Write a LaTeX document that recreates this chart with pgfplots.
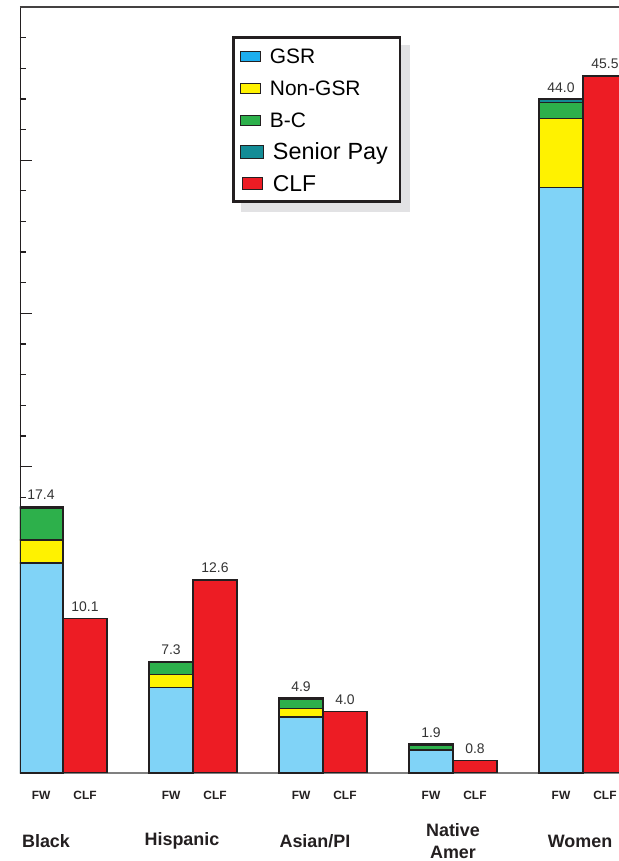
\documentclass[border=0pt]{standalone}
\usepackage{pgfplots}
\pgfplotsset{compat=1.18}
\usepackage{fontspec}
\setmainfont{Liberation Sans}
\pgfdeclarelayer{background}
\pgfsetlayers{background,main}
\definecolor{gsr}{HTML}{80D3F7}
\definecolor{gsrl}{HTML}{1DAEEF}
\definecolor{ngsr}{HTML}{FFF200}
\definecolor{bc}{HTML}{2DB04B}
\definecolor{senior}{HTML}{138C96}
\definecolor{clf}{HTML}{ED1C24}
\definecolor{edge}{HTML}{231F20}
\definecolor{lbl}{HTML}{333333}
\definecolor{shadowgray}{HTML}{E2E2E4}
\pgfplotsset{
  common/.style={
    at={(0,0)}, anchor=south west, scale only axis,
    width=599bp, height=766bp,
    xmin=-0.331, xmax=4.277, ymin=0, ymax=50,
    bar width=0.338,
    /pgf/number format/assume math mode=true,
  },
  barstyle/.style={draw=edge, line width=1.3bp},
}
\begin{document}
\begin{tikzpicture}
\path[use as bounding box] (-20bp,-88bp) rectangle (599bp,773bp);
\begin{axis}[common,
  ybar stacked,
  axis line style={draw=none},
  ytick={0,10,...,50}, minor y tick num=4, yticklabels={},
  ytick pos=left, tick align=inside,
  major tick length=12bp, minor tick length=6bp,
  y tick style={draw=edge, line width=1.3bp},
  xtick={-0.169,0.169,0.831,1.169,1.831,2.169,2.831,3.169,3.831,4.169},
  xticklabels={FW,CLF,FW,CLF,FW,CLF,FW,CLF,FW,CLF},
  x tick style={draw=none},
  xticklabel style={font=\fontsize{12}{12}\selectfont\bfseries, text=edge, anchor=base, yshift=-26bp},
  extra x ticks={-0.131,0.915,1.938,3.0,3.977},
  extra x tick labels={Black,Hispanic,Asian/PI,{Native\\Amer},Women},
  extra x tick style={x tick style={draw=none}, xticklabel style={font=\fontsize{18}{21.5}\selectfont\bfseries, text=edge, align=center, anchor=center, yshift=-42bp}},
  legend cell align=left,
  legend style={name=leg, at={(0.3545,0.9617)}, anchor=north west, draw=edge, line width=2.7bp, fill=white,
    inner xsep=6bp, inner ysep=5bp, row sep=6bp, column sep=6bp,
    font=\fontsize{21}{21}\selectfont,
    nodes={inner sep=0pt, text height=21bp, text depth=5bp, text width=124bp}},
]
\addlegendimage{legend image code/.code={\draw[fill=gsrl, draw=edge, line width=1.2bp] (0bp,-5.5bp) rectangle (20bp,4.5bp);}}
\addlegendimage{legend image code/.code={\draw[fill=ngsr, draw=edge, line width=1.2bp] (0bp,-5.5bp) rectangle (20bp,4.5bp);}}
\addlegendimage{legend image code/.code={\draw[fill=bc, draw=edge, line width=1.2bp] (0bp,-5.5bp) rectangle (20bp,4.5bp);}}
\addlegendimage{legend image code/.code={\draw[fill=senior, draw=edge, line width=1.2bp] (0bp,-6.5bp) rectangle (23bp,6bp);}}
\addlegendimage{legend image code/.code={\draw[fill=clf, draw=edge, line width=1.2bp] (2bp,-6bp) rectangle (22bp,6bp);}}
\legend{GSR,Non-GSR,B-C,{\fontsize{23.5}{23.5}\selectfont\hspace{3bp}Senior Pay},{\fontsize{23}{23}\selectfont\hspace{3bp}CLF}}
% FW stacks
\addplot[barstyle, fill=gsr] coordinates {(-0.169,13.7) (0.831,5.6) (1.831,3.65) (2.831,1.5) (3.831,38.2)};
\addplot[barstyle, fill=ngsr] coordinates {(-0.169,1.5) (0.831,0.85) (1.831,0.55) (2.831,0.05) (3.831,4.5)};
\addplot[barstyle, fill=bc] coordinates {(-0.169,2.1) (0.831,0.8) (1.831,0.63) (2.831,0.25) (3.831,1.05)};
\addplot[barstyle, fill=senior] coordinates {(-0.169,0.1) (0.831,0.05) (1.831,0.07) (2.831,0.1) (3.831,0.25)};
\draw[draw=gray, line width=1.2bp] (rel axis cs:0,0) -- (rel axis cs:1,0);
\end{axis}
\begin{pgfonlayer}{background}
\fill[shadowgray] ([shift={(9bp,-9bp)}]leg.south west) rectangle ([shift={(9bp,-9bp)}]leg.north east);
\end{pgfonlayer}
\begin{axis}[common,
  ybar, bar shift=0pt,
  axis line style={draw=none}, xtick=\empty, ytick=\empty,
  nodes near coords={\pgfmathprintnumber[fixed,fixed zerofill,precision=1]{\pgfplotspointmeta}},
  nodes near coords style={font=\fontsize{14}{14}\selectfont, text=lbl, anchor=south, yshift=3bp},
]
\addplot[barstyle, fill=clf] coordinates {(0.169,10.1) (1.169,12.6) (2.169,4.0) (3.169,0.8) (4.169,45.5)};
\addplot[draw=none, fill=none] coordinates {(-0.169,17.4) (0.831,7.3) (1.831,4.9) (2.831,1.9) (3.831,44.0)};
\draw[draw=edge, line width=2bp] (rel axis cs:0,0) -- (rel axis cs:0,1);
\draw[draw=edge!85, line width=1.5bp] (rel axis cs:0,1) -- (rel axis cs:1,1);
\end{axis}
\end{tikzpicture}
\end{document}
